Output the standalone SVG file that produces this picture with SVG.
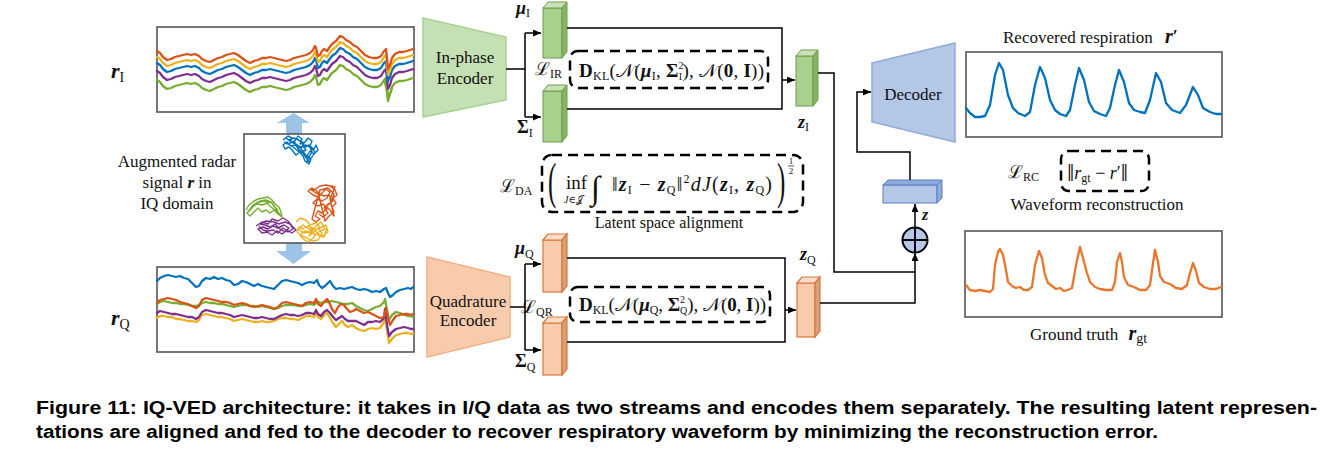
<svg xmlns="http://www.w3.org/2000/svg" xmlns:xlink="http://www.w3.org/1999/xlink" width="1341" height="450" viewBox="0 0 1341 450" font-size="17">
<style>
.plot{fill:#fff;stroke:#555;stroke-width:1.6}
.sig{fill:none;stroke-width:2.3;stroke-linejoin:round;stroke-linecap:round}
.scr{fill:none;stroke-width:1.4;stroke-linejoin:round}
.conn{fill:none;stroke:#000;stroke-width:1.5}
.dash{fill:none;stroke:#000;stroke-width:2.5;stroke-dasharray:10 6}
.t{font-family:"Liberation Serif","DejaVu Serif",serif;fill:#111}
.m{font-family:"Liberation Serif","DejaVu Serif",serif;fill:#111}
.bi{font-weight:bold;font-style:italic}
.b{font-weight:bold}
.sub{font-size:12px}
.cap{font-family:"Liberation Sans","DejaVu Sans",sans-serif;font-weight:bold;font-size:18px;fill:#000}
.gF{fill:#a9d18e;stroke:#6f9e4c;stroke-width:1}
.gT{fill:#c9e2b8;stroke:#6f9e4c;stroke-width:1}
.gS{fill:#86b366;stroke:#6f9e4c;stroke-width:1}
.oF{fill:#f8cbad;stroke:#d9783a;stroke-width:1.2}
.oT{fill:#fbdcc6;stroke:#d9783a;stroke-width:1.2}
.oS{fill:#d6a07c;stroke:#d9783a;stroke-width:1.2}
</style>
<defs>
<marker id="ah" markerUnits="userSpaceOnUse" markerWidth="8" markerHeight="7" refX="8" refY="3.5" orient="auto">
<path d="M0,0 L8,3.5 L0,7 z" fill="#000"/>
</marker>
<path id="sigI" class="sig" d="M157,51 L160,53 L163,57 L167,60 L171,59 L175,57 L179,56 L183,55 L187,54 L191,55 L195,54 L199,56 L202,59 L206,61 L210,62 L214,60 L218,58 L222,57 L226,55 L230,54 L234,53 L238,55 L242,58 L246,61 L250,63 L254,61 L258,60 L262,58 L266,58 L270,57 L274,58 L278,59 L282,60 L286,61 L290,60 L294,58 L298,57 L302,56 L306,55 L310,53 L313,50 L315,46 L316,48 L318,56 L320,55 L322,51 L324,49 L327,51 L329,48 L332,44 L336,41 L340,36 L343,37 L346,40 L350,42 L353,45 L357,47 L361,51 L365,55 L369,57 L373,58 L377,58 L381,56 L384,51 L386,49 L387,58 L388,69 L390,65 L392,58 L395,54 L399,52 L403,52 L407,51 L410,50 L413,49"/>
</defs>

<!-- Top I signal plot -->
<g id="plot-rI">
<rect class="plot" x="157" y="27" width="257" height="85"/>
<use xlink:href="#sigI" transform="translate(0,29)" stroke="#77ac30"/>
<polyline class="sig" stroke="#77ac30" points="385,82 387,92 388,101 390,94 392,88"/>
<use xlink:href="#sigI" transform="translate(0,20)" stroke="#7e2f8e"/>
<use xlink:href="#sigI" transform="translate(0,12)" stroke="#0072bd"/>
<use xlink:href="#sigI" transform="translate(0,6)" stroke="#edb120"/>
<use xlink:href="#sigI" stroke="#d95319"/>
<text class="m" x="111" y="78"><tspan class="bi" font-size="22">r</tspan><tspan font-size="14" dy="4">I</tspan></text>
</g>

<!-- Middle IQ plot -->
<g id="plot-iq">
<polygon fill="#9dc3e6" points="293.5,113 310,123 302,123 302,134 286,134 286,123 277,123"/>
<polygon fill="#9dc3e6" points="286,243 302,243 302,251 311,251 293.5,264 276,251 286,251"/>
<rect class="plot" x="244" y="134" width="101" height="109"/>
<polyline class="scr" stroke="#0072bd" points="283,140 288,136 292,138 290,143 295,141 298,136 302,139 300,144 305,142 308,138 312,141 310,146 314,149 316,145 318,150 314,154 310,151 307,156 311,159 309,164 305,161 303,156 300,152 296,155 292,150 289,147 285,149 283,145 287,142 291,146 295,145 299,148 303,146 306,150 302,152 298,149 294,141 297,139 301,142 305,147 309,145 312,152 308,158 305,154 301,149 304,143 299,140 294,138 289,140 286,138 291,142 296,144 300,147 306,145 311,148 315,152 312,157 307,161 310,162 306,158 303,153 298,151 293,147 288,144 284,142"/>
<polyline class="scr" stroke="#d95319" points="330,186 335,190 337,195 333,198 336,203 332,207 334,212 329,216 325,221 318,192 312,188 308,191 313,195 318,197 322,193 326,189 330,192 327,198 322,201 317,199 313,203 318,206 323,204 327,209 322,213 318,211 315,216 320,219 316,222 312,219 320,190 328,188 334,194 331,203 326,206 330,210 334,216 330,199 335,187 326,185 320,186 314,190 310,189 316,193 324,196 329,195 333,201 328,204 324,208 328,213 323,217 319,214"/>
<polyline class="scr" stroke="#edb120" points="296,222 300,218 306,220 310,225 316,223 320,228 326,225 328,232 322,236 317,233 313,238 308,242 303,239 300,235 305,231 310,233 313,228 308,226 303,229 299,227 297,232 302,236 307,238 312,241 318,240 322,233 318,228 314,232 309,236 316,226 321,222 325,229 320,231 315,235 311,230 306,233 302,232 298,229 303,225 309,229 315,229 319,236 324,237 327,228"/>
<polyline class="scr" stroke="#7e2f8e" points="256,226 262,222 268,224 272,219 278,221 283,218 288,221 292,226 296,230 292,233 287,230 282,234 277,231 272,235 267,232 262,233 258,229 263,227 268,229 273,226 278,228 284,225 289,228 285,232 280,229 275,224 270,227 265,225 260,224 266,221 274,222 279,224 285,222 290,224 293,229 288,232 283,228 278,233 273,230 268,231 263,230 259,226"/>
<polyline class="scr" stroke="#77ac30" points="246,210 249,205 254,201 258,199 263,198 268,197 272,200 275,204 279,207 281,212 282,217 278,214 274,210 270,213 266,210 262,212 258,208 254,212 250,216 247,213 252,207 257,204 262,205 267,203 271,207 276,211 280,215 272,203 264,201 256,203 251,209 248,212 253,205 260,201 266,200 271,202 275,207 278,210"/>
<text class="t" text-anchor="middle"><tspan x="177" y="167">Augmented radar</tspan><tspan x="177" y="188">signal <tspan class="bi">r</tspan> in</tspan><tspan x="177" y="209">IQ domain</tspan></text>
</g>

<!-- Bottom Q signal plot -->
<g id="plot-rQ">
<rect class="plot" x="157" y="267" width="257" height="85"/>
<polyline class="sig" stroke="#edb120" points="157,318 160,316 164,316 168,317 172,317 176,319 180,319 184,320 188,321 192,321 196,322 199,320 202,315 206,314 210,315 214,316 218,317 222,317 226,318 230,319 234,321 238,320 242,319 246,320 250,321 254,322 258,322 262,321 266,322 270,322 274,321 278,319 282,318 286,318 290,319 294,319 298,320 302,318 306,316 310,316 314,317 316,313 318,317 321,319 324,315 327,313 330,318 333,323 336,327 339,324 342,321 345,325 348,327 352,325 356,328 360,330 364,331 368,329 372,328 376,329 380,328 384,322 385,314 387,330 389,343 392,339 396,335 400,334 404,333 408,333 411,334 413,334"/>
<polyline class="sig" stroke="#7e2f8e" points="157,313 160,311 164,312 168,313 172,314 176,314 180,315 184,316 188,317 192,317 196,319 199,317 202,312 206,310 210,311 214,312 218,313 222,313 226,314 230,315 234,317 238,316 242,315 246,316 250,317 254,318 258,318 262,317 266,318 270,319 274,319 278,317 282,315 286,314 290,315 294,315 298,316 302,315 306,313 310,313 314,314 316,310 318,314 321,316 324,312 327,310 330,313 333,317 336,320 339,318 342,316 345,319 348,321 352,321 356,321 360,323 364,325 368,322 372,322 376,321 380,322 384,318 385,309 387,325 389,336 392,332 396,329 400,328 404,327 408,328 411,329 413,329"/>
<polyline class="sig" stroke="#77ac30" points="157,304 160,302 164,301 168,302 172,303 176,303 180,304 184,304 188,305 192,306 196,306 199,305 202,303 206,302 210,303 214,303 218,304 222,304 226,305 230,306 234,307 238,306 242,305 246,305 250,306 254,306 258,307 262,306 266,307 270,308 274,309 278,308 282,306 286,305 290,305 294,305 298,306 302,306 306,305 310,304 314,305 317,301 320,303 324,302 328,302 332,301 336,302 340,303 344,304 348,304 352,303 356,306 360,308 364,310 368,311 372,309 376,307 380,306 384,302 385,299 387,310 389,320 392,315 396,312 400,313 404,315 408,316 411,316 413,317"/>
<polyline class="sig" stroke="#d95319" points="157,303 160,300 164,299 168,298 172,299 176,300 180,302 184,303 188,304 192,306 196,308 199,306 202,300 206,298 210,299 214,300 218,301 222,302 226,302 230,303 234,305 238,304 242,303 246,304 250,306 254,307 258,306 262,305 266,306 270,307 274,309 278,307 282,303 286,302 290,303 294,304 298,305 302,306 306,303 310,302 314,303 316,299 318,304 321,306 324,302 327,299 329,302 332,309 335,313 338,307 341,304 344,305 347,309 350,312 353,311 356,309 360,311 364,313 368,312 372,314 376,316 380,318 384,317 386,308 388,318 390,325 393,320 396,316 400,315 404,314 408,314 411,315 413,314"/>
<polyline class="sig" stroke="#0072bd" points="157,281 160,278 164,276 168,275 172,276 176,277 180,276 184,278 188,279 192,283 196,287 199,286 202,281 206,278 210,279 214,277 218,279 222,278 226,280 230,281 234,285 238,284 242,281 246,282 250,284 254,286 258,284 262,286 266,287 270,288 274,289 278,285 282,281 286,280 290,281 294,282 298,283 302,285 306,283 310,282 314,283 317,280 319,285 322,288 325,286 328,283 330,281 333,286 336,289 340,288 344,289 348,288 352,287 356,289 360,290 364,289 368,290 372,292 376,291 380,292 384,289 386,288 388,293 390,297 393,295 396,292 400,290 404,289 408,288 411,289 413,287"/>
<text class="m" x="111" y="325"><tspan class="bi" font-size="22">r</tspan><tspan font-size="14" dy="4">Q</tspan></text>
</g>

<!-- Encoders -->
<g id="enc-I">
<polygon points="423,18 506,37 506,100 423,117" fill="#c5e0b4" stroke="#a9d18e" stroke-width="1.5"/>
<text class="t" text-anchor="middle"><tspan x="465" y="63">In-phase</tspan><tspan x="465" y="84">Encoder</tspan></text>
</g>
<g id="enc-Q">
<polygon points="427,257 510,277 510,337 427,357" fill="#f8cbad" stroke="#f4b183" stroke-width="1.5"/>
<text class="t" text-anchor="middle"><tspan x="468" y="307">Quadrature</tspan><tspan x="468" y="326">Encoder</tspan></text>
</g>

<!-- Latent blocks I -->
<g id="mu-I">
<rect class="gF" x="543" y="8" width="19" height="50"/>
<polygon class="gT" points="543,8 548,2 567,2 562,8"/>
<polygon class="gS" points="562,8 567,2 567,52 562,58"/>
<text class="m" x="516" y="14"><tspan class="bi" font-size="18">μ</tspan><tspan class="sub" dy="3">I</tspan></text>
</g>
<g id="sigma-I">
<rect class="gF" x="543" y="91" width="19" height="51"/>
<polygon class="gT" points="543,91 548,85 567,85 562,91"/>
<polygon class="gS" points="562,91 567,85 567,136 562,142"/>
<text class="m" x="517" y="133"><tspan class="b" font-size="18">Σ</tspan><tspan class="sub" dy="4">I</tspan></text>
</g>
<g id="z-I">
<rect class="gF" x="796" y="56" width="17" height="50"/>
<polygon class="gT" points="796,56 801,50 818,50 813,56"/>
<polygon class="gS" points="813,56 818,50 818,100 813,106"/>
<text class="m" x="798" y="128"><tspan class="bi" font-size="18">z</tspan><tspan class="sub" dy="3">I</tspan></text>
</g>
<g id="loss-IR">
<text class="m" x="535" y="75"><tspan font-size="18">ℒ</tspan><tspan class="sub" dy="3">IR</tspan></text>
<rect class="dash" x="570" y="51" width="198" height="37" rx="8"/>
<text class="m" x="579" y="77" font-size="19" textLength="185"><tspan class="b">D</tspan><tspan class="sub" dy="3">KL</tspan><tspan dy="-3">(𝒩(</tspan><tspan class="bi">μ</tspan><tspan class="sub" dy="3">I</tspan><tspan dy="-3">, </tspan><tspan class="b">Σ</tspan><tspan font-size="10" dy="-8">2</tspan><tspan font-size="10" dx="-5" dy="11">I</tspan><tspan dy="-3">), 𝒩(</tspan><tspan class="b">0</tspan><tspan>, </tspan><tspan class="b">I</tspan><tspan>))</tspan></text>
</g>

<!-- Latent blocks Q -->
<g id="mu-Q">
<rect class="oF" x="543" y="240" width="19" height="52"/>
<polygon class="oT" points="543,240 548,234 567,234 562,240"/>
<polygon class="oS" points="562,240 567,234 567,286 562,292"/>
<text class="m" x="515" y="254"><tspan class="bi" font-size="18">μ</tspan><tspan class="sub" dy="4">Q</tspan></text>
</g>
<g id="sigma-Q">
<rect class="oF" x="543" y="323" width="19" height="52"/>
<polygon class="oT" points="543,323 548,317 567,317 562,323"/>
<polygon class="oS" points="562,323 567,317 567,369 562,375"/>
<text class="m" x="515" y="367"><tspan class="b" font-size="18">Σ</tspan><tspan class="sub" dy="4">Q</tspan></text>
</g>
<g id="z-Q">
<rect class="oF" x="797" y="283" width="18" height="54"/>
<polygon class="oT" points="797,283 802,277 820,277 815,283"/>
<polygon class="oS" points="815,283 820,277 820,331 815,337"/>
<text class="m" x="800" y="260"><tspan class="bi" font-size="18">z</tspan><tspan class="sub" dy="4">Q</tspan></text>
</g>
<g id="loss-QR">
<text class="m" x="521" y="313"><tspan font-size="18">ℒ</tspan><tspan class="sub" dy="3">QR</tspan></text>
<rect class="dash" x="570" y="287" width="200" height="35" rx="8"/>
<text class="m" x="579" y="311" font-size="19" textLength="187"><tspan class="b">D</tspan><tspan class="sub" dy="3">KL</tspan><tspan dy="-3">(𝒩(</tspan><tspan class="bi">μ</tspan><tspan class="sub" dy="3">Q</tspan><tspan dy="-3">, </tspan><tspan class="b">Σ</tspan><tspan font-size="10" dy="-8">2</tspan><tspan font-size="10" dx="-5" dy="11">Q</tspan><tspan dy="-3">), 𝒩(</tspan><tspan class="b">0</tspan><tspan>, </tspan><tspan class="b">I</tspan><tspan>))</tspan></text>
</g>

<!-- Distribution alignment loss -->
<g id="loss-DA">
<text class="m" x="500" y="192"><tspan font-size="18">ℒ</tspan><tspan class="sub" dy="3">DA</tspan></text>
<rect class="dash" x="542" y="155" width="261" height="57" rx="10"/>
<text class="m" font-size="50" transform="translate(548,198) scale(0.5,1)">(</text>
<text class="m" x="566" y="189" font-size="19">inf</text>
<text class="m" x="564" y="203" font-size="10"><tspan font-style="italic">J</tspan>∈𝒥</text>
<text class="m" x="591" y="199" font-size="33" font-style="italic">∫</text>
<text class="m" x="612" y="191" font-size="20" textLength="160"><tspan>‖</tspan><tspan class="bi">z</tspan><tspan class="sub" dy="3">I</tspan><tspan dy="-3"> − </tspan><tspan class="bi">z</tspan><tspan class="sub" dy="3">Q</tspan><tspan dy="-3">‖</tspan><tspan font-size="12" dy="-8">2</tspan><tspan dy="8" font-style="italic">dJ</tspan><tspan>(</tspan><tspan class="bi">z</tspan><tspan class="sub" dy="3">I</tspan><tspan dy="-3">, </tspan><tspan class="bi">z</tspan><tspan class="sub" dy="3">Q</tspan><tspan dy="-3">)</tspan></text>
<text class="m" font-size="50" transform="translate(777,198) scale(0.5,1)">)</text>
<text class="m" x="791" y="164" font-size="9" text-anchor="middle">1</text>
<line x1="788" y1="166" x2="794" y2="166" stroke="#111" stroke-width="0.7"/>
<text class="m" x="791" y="174" font-size="9" text-anchor="middle">2</text>
<text class="t" x="669" y="228" font-size="16" text-anchor="middle">Latent space alignment</text>
</g>

<!-- Fusion -->
<g id="concat">
<rect x="883" y="185" width="54" height="18" fill="#b4c7e7" stroke="#5b7fc0" stroke-width="1"/>
<polygon points="883,185 888,180 942,180 937,185" fill="#8faadc" stroke="#5b7fc0" stroke-width="1"/>
<polygon points="937,185 942,180 942,198 937,203" fill="#8faadc" stroke="#5b7fc0" stroke-width="1"/>
</g>
<g id="oplus">
<circle cx="915" cy="240" r="12.5" fill="#b4c7e7" stroke="#000" stroke-width="2"/>
<path d="M902.5,240 H927.5 M915,227.5 V252.5" stroke="#000" stroke-width="2"/>
<text class="m" x="922" y="220" font-size="16"><tspan class="bi">z</tspan></text>
</g>

<!-- Decoder -->
<g id="decoder">
<polygon points="872,63 955,43 955,142 872,122" fill="#b4c7e7" stroke="#8faadc" stroke-width="1.5"/>
<text class="t" x="913" y="100" text-anchor="middle">Decoder</text>
</g>

<!-- Recovered respiration -->
<g id="plot-rec">
<text class="t" x="1003" y="43">Recovered respiration <tspan class="bi" font-size="20" dx="8">r</tspan><tspan class="b" font-size="18">′</tspan></text>
<rect class="plot" x="966" y="52" width="256" height="85"/>
<polyline class="sig" stroke="#0072bd" points="966,108 970,113 975,117 980,117 985,116 990,105 995,75 999,63 1003,70 1008,95 1013,108 1018,113 1025,116 1030,112 1035,85 1040,67 1045,78 1050,100 1055,110 1060,114 1066,116 1070,110 1075,85 1079,68 1084,80 1089,102 1094,111 1100,114 1106,116 1110,108 1115,85 1119,70 1124,82 1129,103 1134,110 1140,112 1145,113 1150,100 1156,73 1161,82 1166,103 1172,110 1180,113 1186,105 1193,87 1198,95 1203,108 1210,112 1216,114 1221,114"/>
</g>

<!-- Reconstruction loss -->
<g id="loss-RC">
<text class="m" x="1008" y="178"><tspan font-size="18">ℒ</tspan><tspan class="sub" dy="3">RC</tspan></text>
<rect class="dash" x="1061" y="151" width="88" height="40" rx="8"/>
<text class="m" x="1067" y="179" font-size="18"><tspan font-size="26" dy="2">‖</tspan><tspan font-style="italic" dy="-2">r</tspan><tspan class="sub" dy="3">gt</tspan><tspan dy="-3"> − </tspan><tspan font-style="italic">r</tspan><tspan>′</tspan><tspan font-size="26" dy="2">‖</tspan></text>
<text class="t" x="1097" y="210" text-anchor="middle">Waveform reconstruction</text>
</g>

<!-- Ground truth -->
<g id="plot-gt">
<rect class="plot" x="965" y="231" width="257" height="86"/>
<polyline class="sig" stroke="#e8762d" points="966,285 970,290 975,291 980,290 985,291 990,292 993,289 995,265 998,252 1000,249 1003,255 1006,270 1008,282 1012,286 1016,288 1020,287 1024,290 1028,290 1032,287 1035,265 1039,251 1042,258 1045,275 1048,283 1052,286 1056,289 1060,288 1064,291 1068,290 1072,288 1076,265 1080,247 1083,258 1087,273 1090,282 1095,287 1100,289 1106,290 1112,290 1115,282 1117,262 1120,253 1122,262 1124,277 1128,285 1134,287 1140,290 1146,290 1150,285 1153,263 1155,250 1158,262 1160,276 1164,282 1170,284 1176,288 1182,289 1187,285 1190,273 1193,263 1196,271 1199,283 1204,287 1210,289 1216,289 1221,287"/>
<text class="t" x="1030" y="340">Ground truth <tspan class="bi" font-size="20" dx="6">r</tspan><tspan font-size="14" dy="3">gt</tspan></text>
</g>

<!-- Connectors -->
<g id="connectors">
<path class="conn" d="M506,69 H525 M525,33 V117"/>
<path class="conn" d="M525,33 H541" marker-end="url(#ah)"/>
<path class="conn" d="M525,117 H541" marker-end="url(#ah)"/>
<path class="conn" d="M567,28 H782 V109 H567"/>
<path class="conn" d="M782,80 H795" marker-end="url(#ah)"/>
<path class="conn" d="M510,307 H525 M525,264 V350"/>
<path class="conn" d="M525,264 H541" marker-end="url(#ah)"/>
<path class="conn" d="M525,350 H541" marker-end="url(#ah)"/>
<path class="conn" d="M567,258 H785 V342 H567"/>
<path class="conn" d="M785,310 H796" marker-end="url(#ah)"/>
<path class="conn" d="M818,73 H834 V272 H915"/>
<path class="conn" d="M820,303 H915 V253" marker-end="url(#ah)"/>
<path class="conn" d="M915,227 V204" marker-end="url(#ah)"/>
<path class="conn" d="M910,180 V152 H857 V92 H871" marker-end="url(#ah)"/>
</g>

<!-- Caption -->
<g id="caption">
<text class="cap" x="36" y="414" textLength="1281" lengthAdjust="spacingAndGlyphs">Figure 11: IQ-VED architecture: it takes in I/Q data as two streams and encodes them separately. The resulting latent represen-</text>
<text class="cap" x="36" y="438" textLength="1122" lengthAdjust="spacingAndGlyphs">tations are aligned and fed to the decoder to recover respiratory waveform by minimizing the reconstruction error.</text>
</g>
</svg>
